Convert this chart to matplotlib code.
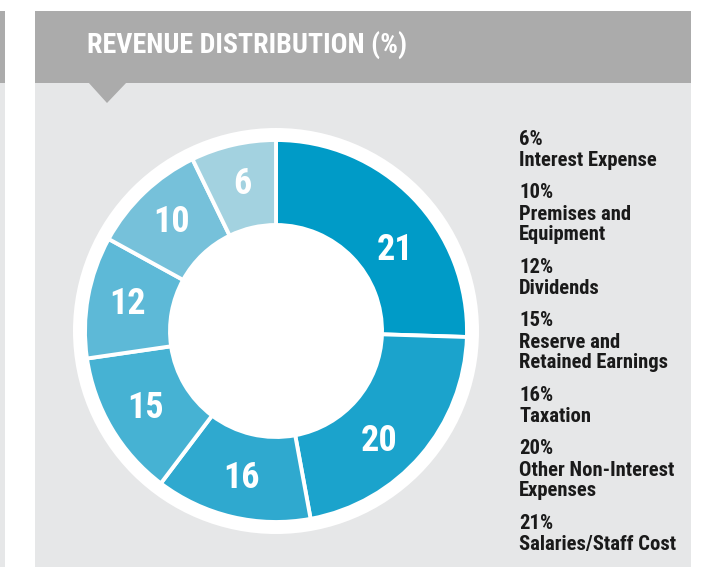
import numpy as np
import matplotlib
matplotlib.use('Agg')
from matplotlib import pyplot as plt
from matplotlib.patches import Rectangle, Polygon, Circle

# data
categories = ['Salaries/Staff Cost', 'Other Non-Interest\nExpenses', 'Taxation',
              'Reserve and\nRetained Earnings', 'Dividends', 'Premises and\nEquipment',
              'Interest Expense']
values = [21, 20, 16, 15, 12, 10, 6]
# the ring in the picture is not drawn to scale, these are the arc shares as drawn
arc_share = [25.5, 21.6, 13.2, 12.4, 10.3, 9.8, 7.2]
colors = ['#009bc7', '#1ba3cc', '#2fa9cf', '#46b2d3', '#5db9d7', '#76c1da', '#a3d2e0']

title = 'REVENUE DISTRIBUTION (%)'
font = ['Roboto Condensed', 'Fira Sans Condensed', 'Barlow Condensed', 'DejaVu Sans']

W, H = 714, 567
fig = plt.figure(figsize=(W/100, H/100), dpi=100)

# background in pixel coords
bg = fig.add_axes([0, 0, 1, 1])
bg.set_xlim(0, W)
bg.set_ylim(H, 0)
bg.axis('off')
bg.add_patch(Rectangle((0, 11), 5, 72, color='#ababab', lw=0))
bg.add_patch(Rectangle((0, 83), 5, H-83, color='#e6e7e8', lw=0))
bg.add_patch(Rectangle((35, 11), 656, 72, color='#ababab', lw=0))
bg.add_patch(Rectangle((35, 83), 656, H-83, color='#e6e7e8', lw=0))
bg.add_patch(Polygon([(88, 82), (127, 82), (107, 103)], closed=True, color='#ababab', lw=0))
bg.text(87, 53, title, color='white', fontsize=20.2, fontweight='bold',
        family=font, va='baseline', ha='left')

# legend text, smallest first
y = 145
for v, cat in zip(values[::-1], categories[::-1]):
    bg.text(519, y, '%d%%' % v, fontsize=14.9, fontweight='bold', family=font,
            color='#1a1a1a', va='baseline')
    for line in cat.split('\n'):
        y += 21
        bg.text(519, y, line, fontsize=14.9, fontweight='bold', family=font,
                color='#1a1a1a', va='baseline')
    y += 32.5

# donut
cx, cy, R = 276, 331, 203
ax = fig.add_axes([(cx-R)/W, (H-cy-R)/H, 2*R/W, 2*R/H])
ax.add_patch(Circle((0, 0), 1.0, color='white', lw=0))
r_out = 191/R
r_in = 106/R
wedges, _ = ax.pie(arc_share, colors=colors, radius=r_out, startangle=90,
                   counterclock=False,
                   wedgeprops=dict(width=r_out-r_in, edgecolor='white', linewidth=2.8))
# label placement tweaks (degrees) to sit where the original puts them
nudge = {0: -10, 1: -6}
for i, (w, v) in enumerate(zip(wedges, values)):
    th = np.deg2rad((w.theta1+w.theta2)/2 + nudge.get(i, 0))
    rr = (144 if i == 0 else 151)/R
    ax.text(rr*np.cos(th), rr*np.sin(th), str(v), color='white', fontsize=26,
            fontweight='bold', family=font, ha='center', va='center')
ax.set_xlim(-1, 1)
ax.set_ylim(-1, 1)
ax.set_aspect('equal')
ax.axis('off')

fig.savefig('out.png', dpi=100)
